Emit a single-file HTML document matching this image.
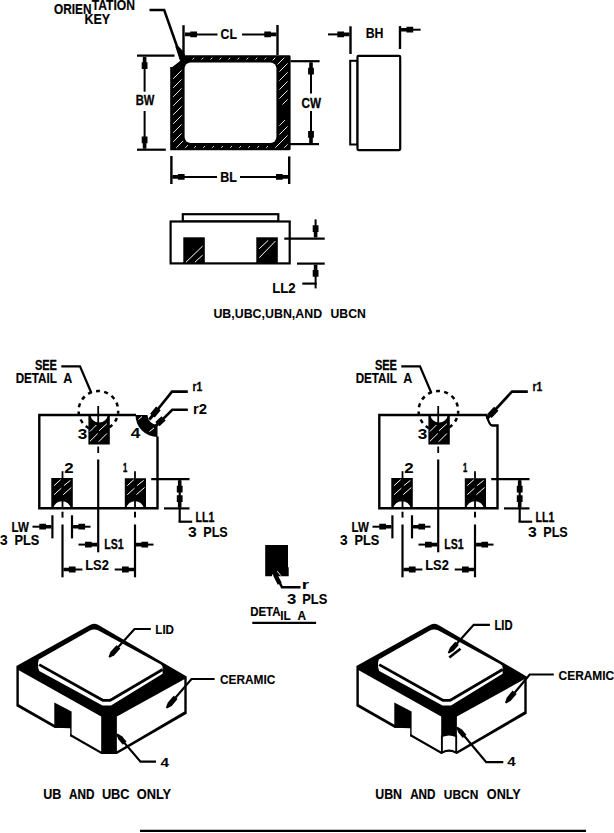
<!DOCTYPE html>
<html><head><meta charset="utf-8"><style>
html,body{margin:0;padding:0;background:#fff;width:614px;height:833px;overflow:hidden}
svg{display:block}
</style></head><body>
<svg width="614" height="833" viewBox="0 0 614 833" stroke="#000" stroke-linecap="butt" fill="none">
<defs>
<pattern id="hat" patternUnits="userSpaceOnUse" width="9" height="9"><line x1="-1" y1="10" x2="10" y2="-1" stroke="#fff" stroke-width="0.9"/></pattern>
</defs>
<g font-family="Liberation Sans, sans-serif" font-weight="bold" stroke="#000" stroke-width="0.35">
<text style="white-space:pre" transform="translate(54.02,14.31) scale(0.8440,1)" font-size="14.023" fill="#000" stroke="#000" stroke-width="0.184" vector-effect="non-scaling-stroke">ORIEN</text>
<text style="white-space:pre" transform="translate(91.76,9.52) scale(0.8702,1)" font-size="13.923" fill="#000" stroke="#000" stroke-width="0.154" vector-effect="non-scaling-stroke">TATION</text>
<text style="white-space:pre" transform="translate(84.47,24.11) scale(0.8529,1)" font-size="14.680" fill="#000" stroke="#000" stroke-width="0.171" vector-effect="non-scaling-stroke">KEY</text>
<text style="white-space:pre" transform="translate(220.61,38.9) scale(0.8304,1)" font-size="14.726" fill="#000" stroke="#000" stroke-width="0.192" vector-effect="non-scaling-stroke">CL</text>
<text style="white-space:pre" transform="translate(220.29,181.6) scale(0.8195,1)" font-size="15.212" fill="#000" stroke="#000" stroke-width="0.204" vector-effect="non-scaling-stroke">BL</text>
<text style="white-space:pre" transform="translate(135.7,105.27) scale(0.7656,1)" font-size="14.685" fill="#000" stroke="#000" stroke-width="0.267" vector-effect="non-scaling-stroke">BW</text>
<text style="white-space:pre" transform="translate(301.47,107.86) scale(0.7623,1)" font-size="15.328" fill="#000" stroke="#000" stroke-width="0.270" vector-effect="non-scaling-stroke">CW</text>
<text style="white-space:pre" transform="translate(365.67,38.43) scale(0.8810,1)" font-size="14.005" fill="#000" stroke="#000" stroke-width="0.136" vector-effect="non-scaling-stroke">BH</text>
<text style="white-space:pre" transform="translate(272.18,292.66) scale(0.9257,1)" font-size="14.305" fill="#000" stroke="#000" stroke-width="0.087" vector-effect="non-scaling-stroke">LL2</text>
<text style="white-space:pre" transform="translate(213.39,318.27) scale(0.9496,1)" font-size="13.054" fill="#000" stroke="#000" stroke-width="0.062" vector-effect="non-scaling-stroke">UB,UBC,UBN,AND</text>
<text style="white-space:pre" transform="translate(330.5,318.26) scale(0.9374,1)" font-size="13.036" fill="#000" stroke="#000" stroke-width="0.075" vector-effect="non-scaling-stroke">UBCN</text>
</g>
<path d="M170.2,150.2 V67 H172.3 L176.2,64 L180.6,60.6 L184.5,55.2 H289.3 Q290.6,55.2 290.6,56.5 V148.9 Q290.6,150.2 289.3,150.2 Z" fill="#000" stroke="none"/>
<rect x="184.6" y="62.6" width="91.8" height="80.5" rx="6" fill="#fff" stroke="none"/>
<clipPath id="bc"><path d="M173.2,147.7 V70 H173.5 L177.5,67 L182,63.6 L186,57.7 H287.6 V147.7 Z M181.6,68.6 V135.1 a11,11 0 0 0 11,11 H268.4 a11,11 0 0 0 11,-11 V70.6 a11,11 0 0 0 -11,-11 H192.6 a11,11 0 0 0 -11,9 Z" fill-rule="evenodd"/></clipPath>
<rect x="170" y="55" width="121" height="96" fill="url(#hat)" stroke="none" clip-path="url(#bc)"/>
<rect x="278" y="104.5" width="11" height="15.5" fill="#000" stroke="none"/>
<polyline points="149.5,10.1 164.2,10.1 177.2,47" fill="none" stroke-width="2.5"/>
<polygon points="175.3,46.5 178.2,46 182.5,50.5 185,55 185,58 180.6,61.2 179.5,59.5" fill="#000" stroke="none"/>
<line x1="183.5" y1="25.2" x2="183.5" y2="55" stroke-width="2.4"/>
<line x1="277.5" y1="25" x2="277.5" y2="55" stroke-width="2.4"/>
<line x1="185" y1="34.4" x2="217.5" y2="34.4" stroke-width="2"/>
<polygon points="185,32.6 190.3,32.6 190.3,31.5 197,31.5 197,37.3 190.3,37.3 190.3,36.2 185,36.2" fill="#000" stroke="none"/>
<line x1="276.3" y1="34.4" x2="242" y2="34.4" stroke-width="2"/>
<polygon points="276.3,36.2 271,36.2 271,37.3 264.3,37.3 264.3,31.5 271,31.5 271,32.6 276.3,32.6" fill="#000" stroke="none"/>
<line x1="137" y1="55.7" x2="174.5" y2="55.7" stroke-width="2.2"/>
<line x1="137" y1="149.7" x2="165.8" y2="149.7" stroke-width="2.2"/>
<line x1="144.6" y1="57" x2="144.6" y2="91.7" stroke-width="2"/>
<polygon points="146.4,57 146.4,62.3 147.5,62.3 147.5,69 141.7,69 141.7,62.3 142.8,62.3 142.8,57" fill="#000" stroke="none"/>
<line x1="144.6" y1="148.5" x2="144.6" y2="111" stroke-width="2"/>
<polygon points="142.8,148.5 142.8,143.2 141.7,143.2 141.7,136.5 147.5,136.5 147.5,143.2 146.4,143.2 146.4,148.5" fill="#000" stroke="none"/>
<line x1="171.4" y1="156" x2="171.4" y2="184" stroke-width="2.4"/>
<line x1="289.2" y1="156.4" x2="289.2" y2="184" stroke-width="2.4"/>
<line x1="172.6" y1="176.9" x2="217" y2="176.9" stroke-width="2"/>
<polygon points="172.6,175.1 177.9,175.1 177.9,174 184.6,174 184.6,179.8 177.9,179.8 177.9,178.7 172.6,178.7" fill="#000" stroke="none"/>
<line x1="288" y1="176.9" x2="240" y2="176.9" stroke-width="2"/>
<polygon points="288,178.7 282.7,178.7 282.7,179.8 276,179.8 276,174 282.7,174 282.7,175.1 288,175.1" fill="#000" stroke="none"/>
<line x1="290.6" y1="61.2" x2="319.6" y2="61.2" stroke-width="2.2"/>
<line x1="290" y1="144.1" x2="319" y2="144.1" stroke-width="2.2"/>
<line x1="311" y1="62.5" x2="311" y2="93.6" stroke-width="2"/>
<polygon points="312.8,62.5 312.8,67.8 313.9,67.8 313.9,74.5 308.1,74.5 308.1,67.8 309.2,67.8 309.2,62.5" fill="#000" stroke="none"/>
<line x1="311" y1="143" x2="311" y2="111" stroke-width="2"/>
<polygon points="309.2,143 309.2,137.7 308.1,137.7 308.1,131 313.9,131 313.9,137.7 312.8,137.7 312.8,143" fill="#000" stroke="none"/>
<rect x="350.2" y="60.8" width="7.3" height="83.7" stroke-width="2"/>
<rect x="357.5" y="55.9" width="42.7" height="94.2" rx="1" fill="#fff" stroke-width="2.2"/>
<line x1="350.5" y1="26.3" x2="350.5" y2="54" stroke-width="2.4"/>
<line x1="400" y1="26.1" x2="400" y2="49" stroke-width="2.4"/>
<line x1="349.3" y1="34.4" x2="328" y2="34.4" stroke-width="2"/>
<polygon points="349.3,36.2 344,36.2 344,37.3 337.3,37.3 337.3,31.5 344,31.5 344,32.6 349.3,32.6" fill="#000" stroke="none"/>
<line x1="401.2" y1="29.7" x2="420.6" y2="29.7" stroke-width="2"/>
<polygon points="401.2,27.9 406.5,27.9 406.5,26.8 413.2,26.8 413.2,32.6 406.5,32.6 406.5,31.5 401.2,31.5" fill="#000" stroke="none"/>
<rect x="182.8" y="214.2" width="95.5" height="7.3" stroke-width="2.2"/>
<rect x="170.6" y="221.5" width="119.1" height="41.9" fill="#fff" stroke-width="2.2"/>
<rect x="183.3" y="237.3" width="21.5" height="26.1" fill="#000" stroke="none"/>
<rect x="256.3" y="237.3" width="21.5" height="26.1" fill="#000" stroke="none"/>
<g stroke="#fff" stroke-width="1">
<line x1="186" y1="262.2" x2="202.6" y2="246.1"/><line x1="194.9" y1="262.2" x2="202.6" y2="255.1"/>
<line x1="259.2" y1="248.8" x2="268.2" y2="240.4"/><line x1="259.2" y1="257.8" x2="275.4" y2="241.1"/>
</g>
<line x1="284.3" y1="238.6" x2="324.7" y2="238.6" stroke-width="2.2"/>
<line x1="297" y1="263.6" x2="324.7" y2="263.6" stroke-width="2.2"/>
<line x1="315.6" y1="237.3" x2="315.6" y2="219.4" stroke-width="2"/>
<polygon points="313.8,237.3 313.8,232 312.7,232 312.7,225.3 318.5,225.3 318.5,232 317.4,232 317.4,237.3" fill="#000" stroke="none"/>
<line x1="315.6" y1="264.8" x2="315.6" y2="288.4" stroke-width="2"/>
<polygon points="317.4,264.8 317.4,270.1 318.5,270.1 318.5,276.8 312.7,276.8 312.7,270.1 313.8,270.1 313.8,264.8" fill="#000" stroke="none"/>
<line x1="302.3" y1="283.6" x2="316.6" y2="283.6" stroke-width="2.2"/>
<g transform="translate(0,0)">
<g font-family="Liberation Sans, sans-serif" font-weight="bold" stroke="#000" stroke-width="0.35">
<text style="white-space:pre" transform="translate(34.89,370.28) scale(0.7841,1)" font-size="14.073" fill="#000" stroke="#000" stroke-width="0.249" vector-effect="non-scaling-stroke">SEE</text>
<text style="white-space:pre" transform="translate(15.63,383.41) scale(0.8475,1)" font-size="13.796" fill="#000" stroke="#000" stroke-width="0.181" vector-effect="non-scaling-stroke">DETAIL</text>
<text style="white-space:pre" transform="translate(63.34,383.45) scale(0.9010,1)" font-size="13.902" fill="#000" stroke="#000" stroke-width="0.107" vector-effect="non-scaling-stroke">A</text>
<text style="white-space:pre" transform="translate(77.77,438.6) scale(1.1558,1)" font-size="14.857" fill="#000" stroke="none">3</text>
<text style="white-space:pre" transform="translate(130.74,438.4) scale(1.2108,1)" font-size="14.203" fill="#000" stroke="none">4</text>
<text style="white-space:pre" transform="translate(64.31,472.5) scale(1.2178,1)" font-size="13.857" fill="#000" stroke="none">2</text>
<text style="white-space:pre" transform="translate(122.92,472.38) scale(0.5650,1)" font-size="13.574" fill="#000" stroke="#000" stroke-width="0.434" vector-effect="non-scaling-stroke">1</text>
<text style="white-space:pre" transform="translate(11.55,531.6) scale(0.8292,1)" font-size="13.920" fill="#000" stroke="#000" stroke-width="0.196" vector-effect="non-scaling-stroke">LW</text>
<text style="white-space:pre" transform="translate(-0.11,545.46) scale(0.9257,1)" font-size="14.889" fill="#000" stroke="#000" stroke-width="0.078" vector-effect="non-scaling-stroke">3</text>
<text style="white-space:pre" transform="translate(14.45,545.42) scale(0.8637,1)" font-size="14.774" fill="#000" stroke="#000" stroke-width="0.158" vector-effect="non-scaling-stroke">PLS</text>
<text style="white-space:pre" transform="translate(104.24,549.47) scale(0.7716,1)" font-size="13.768" fill="#000" stroke="#000" stroke-width="0.262" vector-effect="non-scaling-stroke">LS1</text>
<text style="white-space:pre" transform="translate(85.23,569.73) scale(0.8779,1)" font-size="14.655" fill="#000" stroke="#000" stroke-width="0.141" vector-effect="non-scaling-stroke">LS2</text>
<text style="white-space:pre" transform="translate(195.57,522.35) scale(0.7292,1)" font-size="14.481" fill="#000" stroke="#000" stroke-width="0.308" vector-effect="non-scaling-stroke">LL1</text>
<text style="white-space:pre" transform="translate(187.91,536.6) scale(1.1255,1)" font-size="14.000" fill="#000" stroke="none">3</text>
<text style="white-space:pre" transform="translate(203.23,536.55) scale(0.9115,1)" font-size="13.852" fill="#000" stroke="#000" stroke-width="0.103" vector-effect="non-scaling-stroke">PLS</text>
<text style="white-space:pre" transform="translate(192.56,390.97) scale(0.7557,1)" font-size="13.671" fill="#000" stroke="#000" stroke-width="0.267" vector-effect="non-scaling-stroke">r1</text>
<text style="white-space:pre" transform="translate(192.93,413.9) scale(1.0739,1)" font-size="13.857" fill="#000" stroke="none">r2</text>
</g>
<polyline points="136,415 39.3,415 39.3,508.3 157.5,508.3 157.5,436.5" fill="none" stroke-width="2.4"/>
<path d="M88.4,415 H90.6 A8.5,7.5 0 0 0 107.6,415 H109.8 V444.5 H88.4 Z" fill="#000" stroke="none"/>
<path d="M51.3,478.1 H72.8 V508.3 H70.3 A8.3,7 0 0 0 53.7,508.3 H51.3 Z" fill="#000" stroke="none"/>
<path d="M124.8,478.3 H146 V508.3 H143.3 A8.3,7 0 0 0 126.7,508.3 H124.8 Z" fill="#000" stroke="none"/>
<path d="M135.5,415 A22,22 0 0 0 157.5,437 V425 A10,10 0 0 1 147.5,415 Z" fill="#000" stroke="none"/>
<g stroke="#fff" stroke-width="1">
<line x1="89.9" y1="431.5" x2="96.4" y2="425"/><line x1="99" y1="430.8" x2="106.9" y2="423.7"/><line x1="89.9" y1="441.3" x2="97.8" y2="433.5"/><line x1="98.6" y1="441.8" x2="106.9" y2="433.5"/>
<line x1="54.1" y1="485.6" x2="60.6" y2="479.7"/><line x1="63.9" y1="485.6" x2="70.4" y2="480.4"/><line x1="54.1" y1="494.7" x2="61.3" y2="488.2"/><line x1="63.2" y1="494.7" x2="71.3" y2="487.5"/>
<line x1="127.30000000000001" y1="485.6" x2="133.8" y2="479.7"/><line x1="137.1" y1="485.6" x2="143.60000000000002" y2="480.4"/><line x1="127.30000000000001" y1="494.7" x2="134.5" y2="488.2"/><line x1="136.4" y1="494.7" x2="144.5" y2="487.5"/>
<line x1="138.5" y1="419.5" x2="142" y2="416.5"/><line x1="149.5" y1="431.5" x2="154" y2="428"/>
</g>
<circle cx="98.4" cy="410.8" r="19.8" stroke-width="2.5" stroke-dasharray="4 4.3" stroke-dashoffset="1"/>
<polyline points="61.3,366.3 80,366.3 91.4,393" fill="none" stroke-width="2.2"/>
<line x1="98.2" y1="406" x2="98.2" y2="424" stroke-width="1.8"/>
<line x1="98.2" y1="446.5" x2="98.2" y2="453" stroke-width="1.8"/>
<line x1="98.2" y1="459.5" x2="98.2" y2="552.3" stroke-width="2.2"/>
<line x1="62.5" y1="471.2" x2="62.5" y2="478.5" stroke-width="1.8"/>
<line x1="62.5" y1="500" x2="62.5" y2="508" stroke-width="1.8"/>
<line x1="62.5" y1="511.7" x2="62.5" y2="517.6" stroke-width="2"/>
<line x1="62.5" y1="524.5" x2="62.5" y2="577.3" stroke-width="2.2"/>
<line x1="135" y1="471.2" x2="135" y2="478.5" stroke-width="1.8"/>
<line x1="135" y1="500" x2="135" y2="508" stroke-width="1.8"/>
<line x1="135" y1="511.7" x2="135" y2="517.6" stroke-width="2"/>
<line x1="135" y1="524.5" x2="135" y2="577.3" stroke-width="2.2"/>
<line x1="52.4" y1="515.3" x2="52.4" y2="538.4" stroke-width="2.2"/>
<line x1="72" y1="515.3" x2="72" y2="538.4" stroke-width="2.2"/>
<line x1="51.3" y1="526.7" x2="32.5" y2="526.7" stroke-width="2"/>
<polygon points="51.3,528.5 46,528.5 46,529.6 39.3,529.6 39.3,523.8 46,523.8 46,524.9 51.3,524.9" fill="#000" stroke="none"/>
<line x1="73.1" y1="526.7" x2="90.5" y2="526.7" stroke-width="2"/>
<polygon points="73.1,524.9 78.4,524.9 78.4,523.8 85.1,523.8 85.1,529.6 78.4,529.6 78.4,528.5 73.1,528.5" fill="#000" stroke="none"/>
<line x1="97" y1="544.6" x2="78.5" y2="544.6" stroke-width="2"/>
<polygon points="97,546.4 91.7,546.4 91.7,547.5 85,547.5 85,541.7 91.7,541.7 91.7,542.8 97,542.8" fill="#000" stroke="none"/>
<line x1="136.1" y1="544.6" x2="153.5" y2="544.6" stroke-width="2"/>
<polygon points="136.1,542.8 141.4,542.8 141.4,541.7 148.1,541.7 148.1,547.5 141.4,547.5 141.4,546.4 136.1,546.4" fill="#000" stroke="none"/>
<line x1="63.6" y1="569.5" x2="82.4" y2="569.5" stroke-width="2"/>
<polygon points="63.6,567.7 68.9,567.7 68.9,566.6 75.6,566.6 75.6,572.4 68.9,572.4 68.9,571.3 63.6,571.3" fill="#000" stroke="none"/>
<line x1="134" y1="569.5" x2="114.7" y2="569.5" stroke-width="2"/>
<polygon points="134,571.3 128.7,571.3 128.7,572.4 122,572.4 122,566.6 128.7,566.6 128.7,567.7 134,567.7" fill="#000" stroke="none"/>
<line x1="151.2" y1="479.2" x2="189.5" y2="479.2" stroke-width="2.2"/>
<line x1="164" y1="508.4" x2="189.5" y2="508.4" stroke-width="2.2"/>
<line x1="179.7" y1="479.2" x2="179.7" y2="522" stroke-width="2.2"/>
<polygon points="181.5,480.4 181.5,485.7 182.6,485.7 182.6,492.4 176.8,492.4 176.8,485.7 177.9,485.7 177.9,480.4" fill="#000" stroke="none"/>
<polygon points="177.9,507.2 177.9,501.9 176.8,501.9 176.8,495.2 182.6,495.2 182.6,501.9 181.5,501.9 181.5,507.2" fill="#000" stroke="none"/>
<line x1="178.6" y1="521.7" x2="192.2" y2="521.7" stroke-width="2.2"/>
<polyline points="187.8,391.6 172,391.6 152,416.5" fill="none" stroke-width="2.6"/>
<polygon points="148.13,418.66 151.28,414.77 150.12,413.83 156.1,406.45 160.76,410.23 154.78,417.61 153.61,416.66 150.47,420.54" fill="#000" stroke="none"/>
<polyline points="187.8,409.8 172.3,409.8 158,424" fill="none" stroke-width="2.6"/>
<polygon points="154.26,425.22 156.41,423.13 155.36,422.06 161.46,416.14 165.64,420.44 159.54,426.36 158.5,425.29 156.34,427.38" fill="#000" stroke="none"/>
</g>
<g transform="translate(340,0)">
<g font-family="Liberation Sans, sans-serif" font-weight="bold" stroke="#000" stroke-width="0.35">
<text style="white-space:pre" transform="translate(34.89,370.28) scale(0.7841,1)" font-size="14.073" fill="#000" stroke="#000" stroke-width="0.249" vector-effect="non-scaling-stroke">SEE</text>
<text style="white-space:pre" transform="translate(15.63,383.41) scale(0.8475,1)" font-size="13.796" fill="#000" stroke="#000" stroke-width="0.181" vector-effect="non-scaling-stroke">DETAIL</text>
<text style="white-space:pre" transform="translate(63.34,383.45) scale(0.9010,1)" font-size="13.902" fill="#000" stroke="#000" stroke-width="0.107" vector-effect="non-scaling-stroke">A</text>
<text style="white-space:pre" transform="translate(77.77,438.6) scale(1.1558,1)" font-size="14.857" fill="#000" stroke="none">3</text>
<text style="white-space:pre" transform="translate(64.31,472.5) scale(1.2178,1)" font-size="13.857" fill="#000" stroke="none">2</text>
<text style="white-space:pre" transform="translate(122.92,472.38) scale(0.5650,1)" font-size="13.574" fill="#000" stroke="#000" stroke-width="0.434" vector-effect="non-scaling-stroke">1</text>
<text style="white-space:pre" transform="translate(11.55,531.6) scale(0.8292,1)" font-size="13.920" fill="#000" stroke="#000" stroke-width="0.196" vector-effect="non-scaling-stroke">LW</text>
<text style="white-space:pre" transform="translate(-0.11,545.46) scale(0.9257,1)" font-size="14.889" fill="#000" stroke="#000" stroke-width="0.078" vector-effect="non-scaling-stroke">3</text>
<text style="white-space:pre" transform="translate(14.45,545.42) scale(0.8637,1)" font-size="14.774" fill="#000" stroke="#000" stroke-width="0.158" vector-effect="non-scaling-stroke">PLS</text>
<text style="white-space:pre" transform="translate(104.24,549.47) scale(0.7716,1)" font-size="13.768" fill="#000" stroke="#000" stroke-width="0.262" vector-effect="non-scaling-stroke">LS1</text>
<text style="white-space:pre" transform="translate(85.23,569.73) scale(0.8779,1)" font-size="14.655" fill="#000" stroke="#000" stroke-width="0.141" vector-effect="non-scaling-stroke">LS2</text>
<text style="white-space:pre" transform="translate(195.57,522.35) scale(0.7292,1)" font-size="14.481" fill="#000" stroke="#000" stroke-width="0.308" vector-effect="non-scaling-stroke">LL1</text>
<text style="white-space:pre" transform="translate(187.91,536.6) scale(1.1255,1)" font-size="14.000" fill="#000" stroke="none">3</text>
<text style="white-space:pre" transform="translate(203.23,536.55) scale(0.9115,1)" font-size="13.852" fill="#000" stroke="#000" stroke-width="0.103" vector-effect="non-scaling-stroke">PLS</text>
<text style="white-space:pre" transform="translate(192.56,390.97) scale(0.7557,1)" font-size="13.671" fill="#000" stroke="#000" stroke-width="0.267" vector-effect="non-scaling-stroke">r1</text>
</g>
<path d="M39.3,415 H146.5 Q149.5,425.5 152,425.5 H157.5 V508.3 H39.3 Z" stroke-width="2.4"/>
<path d="M88.4,415 H90.6 A8.5,7.5 0 0 0 107.6,415 H109.8 V444.5 H88.4 Z" fill="#000" stroke="none"/>
<path d="M51.3,478.1 H72.8 V508.3 H70.3 A8.3,7 0 0 0 53.7,508.3 H51.3 Z" fill="#000" stroke="none"/>
<path d="M124.8,478.3 H146 V508.3 H143.3 A8.3,7 0 0 0 126.7,508.3 H124.8 Z" fill="#000" stroke="none"/>
<g stroke="#fff" stroke-width="1">
<line x1="89.9" y1="431.5" x2="96.4" y2="425"/><line x1="99" y1="430.8" x2="106.9" y2="423.7"/><line x1="89.9" y1="441.3" x2="97.8" y2="433.5"/><line x1="98.6" y1="441.8" x2="106.9" y2="433.5"/>
<line x1="54.1" y1="485.6" x2="60.6" y2="479.7"/><line x1="63.9" y1="485.6" x2="70.4" y2="480.4"/><line x1="54.1" y1="494.7" x2="61.3" y2="488.2"/><line x1="63.2" y1="494.7" x2="71.3" y2="487.5"/>
<line x1="127.30000000000001" y1="485.6" x2="133.8" y2="479.7"/><line x1="137.1" y1="485.6" x2="143.60000000000002" y2="480.4"/><line x1="127.30000000000001" y1="494.7" x2="134.5" y2="488.2"/><line x1="136.4" y1="494.7" x2="144.5" y2="487.5"/>
</g>
<circle cx="98.4" cy="410.8" r="19.8" stroke-width="2.5" stroke-dasharray="4 4.3" stroke-dashoffset="1"/>
<polyline points="61.3,366.3 80,366.3 91.4,393" fill="none" stroke-width="2.2"/>
<line x1="98.2" y1="406" x2="98.2" y2="424" stroke-width="1.8"/>
<line x1="98.2" y1="446.5" x2="98.2" y2="453" stroke-width="1.8"/>
<line x1="98.2" y1="459.5" x2="98.2" y2="552.3" stroke-width="2.2"/>
<line x1="62.5" y1="471.2" x2="62.5" y2="478.5" stroke-width="1.8"/>
<line x1="62.5" y1="500" x2="62.5" y2="508" stroke-width="1.8"/>
<line x1="62.5" y1="511.7" x2="62.5" y2="517.6" stroke-width="2"/>
<line x1="62.5" y1="524.5" x2="62.5" y2="577.3" stroke-width="2.2"/>
<line x1="135" y1="471.2" x2="135" y2="478.5" stroke-width="1.8"/>
<line x1="135" y1="500" x2="135" y2="508" stroke-width="1.8"/>
<line x1="135" y1="511.7" x2="135" y2="517.6" stroke-width="2"/>
<line x1="135" y1="524.5" x2="135" y2="577.3" stroke-width="2.2"/>
<line x1="52.4" y1="515.3" x2="52.4" y2="538.4" stroke-width="2.2"/>
<line x1="72" y1="515.3" x2="72" y2="538.4" stroke-width="2.2"/>
<line x1="51.3" y1="526.7" x2="32.5" y2="526.7" stroke-width="2"/>
<polygon points="51.3,528.5 46,528.5 46,529.6 39.3,529.6 39.3,523.8 46,523.8 46,524.9 51.3,524.9" fill="#000" stroke="none"/>
<line x1="73.1" y1="526.7" x2="90.5" y2="526.7" stroke-width="2"/>
<polygon points="73.1,524.9 78.4,524.9 78.4,523.8 85.1,523.8 85.1,529.6 78.4,529.6 78.4,528.5 73.1,528.5" fill="#000" stroke="none"/>
<line x1="97" y1="544.6" x2="78.5" y2="544.6" stroke-width="2"/>
<polygon points="97,546.4 91.7,546.4 91.7,547.5 85,547.5 85,541.7 91.7,541.7 91.7,542.8 97,542.8" fill="#000" stroke="none"/>
<line x1="136.1" y1="544.6" x2="153.5" y2="544.6" stroke-width="2"/>
<polygon points="136.1,542.8 141.4,542.8 141.4,541.7 148.1,541.7 148.1,547.5 141.4,547.5 141.4,546.4 136.1,546.4" fill="#000" stroke="none"/>
<line x1="63.6" y1="569.5" x2="82.4" y2="569.5" stroke-width="2"/>
<polygon points="63.6,567.7 68.9,567.7 68.9,566.6 75.6,566.6 75.6,572.4 68.9,572.4 68.9,571.3 63.6,571.3" fill="#000" stroke="none"/>
<line x1="134" y1="569.5" x2="114.7" y2="569.5" stroke-width="2"/>
<polygon points="134,571.3 128.7,571.3 128.7,572.4 122,572.4 122,566.6 128.7,566.6 128.7,567.7 134,567.7" fill="#000" stroke="none"/>
<line x1="151.2" y1="479.2" x2="189.5" y2="479.2" stroke-width="2.2"/>
<line x1="164" y1="508.4" x2="189.5" y2="508.4" stroke-width="2.2"/>
<line x1="179.7" y1="479.2" x2="179.7" y2="522" stroke-width="2.2"/>
<polygon points="181.5,480.4 181.5,485.7 182.6,485.7 182.6,492.4 176.8,492.4 176.8,485.7 177.9,485.7 177.9,480.4" fill="#000" stroke="none"/>
<polygon points="177.9,507.2 177.9,501.9 176.8,501.9 176.8,495.2 182.6,495.2 182.6,501.9 181.5,501.9 181.5,507.2" fill="#000" stroke="none"/>
<line x1="178.6" y1="521.7" x2="192.2" y2="521.7" stroke-width="2.2"/>
<polyline points="187.8,391.6 172,391.6 149.5,416" fill="none" stroke-width="2.6"/>
<polygon points="145.7,417.98 148.4,415.04 147.3,414.03 154.07,406.66 158.49,410.73 151.72,418.09 150.61,417.07 147.9,420.02" fill="#000" stroke="none"/>
</g>
<path d="M265.2,544.9 H288 V567.2 H288.7 V576.3 H275.5 L273.4,572.5 L271.8,576.3 H265.2 Z" fill="#000" stroke="none"/>
<polyline points="275,573.5 282,587.3 300.5,587.3" fill="none" stroke-width="2.5"/>
<polygon points="274.96,571.71 277.59,574.85 281.7,582.85 277.79,584.87 273.67,576.86 272.64,572.89" fill="#000" stroke="none"/>
<line x1="277.3" y1="571.2" x2="280.8" y2="575.6" stroke="#fff" stroke-width="0.9"/>
<g font-family="Liberation Sans, sans-serif" font-weight="bold" stroke="#000" stroke-width="0.35">
<text style="white-space:pre" transform="translate(301.78,589.2) scale(1.4858,1)" font-size="12.593" fill="#000" stroke="none">r</text>
<text style="white-space:pre" transform="translate(286.88,604.4) scale(1.1396,1)" font-size="14.714" fill="#000" stroke="none">3</text>
<text style="white-space:pre" transform="translate(302.23,604.33) scale(0.8868,1)" font-size="14.526" fill="#000" stroke="#000" stroke-width="0.132" vector-effect="non-scaling-stroke">PLS</text>
<text style="white-space:pre" transform="translate(250.25,615.81) scale(0.8440,1)" font-size="13.502" fill="#000" stroke="#000" stroke-width="0.184" vector-effect="non-scaling-stroke">DETA</text>
<text style="white-space:pre" transform="translate(280.31,619.52) scale(0.8587,1)" font-size="13.688" fill="#000" stroke="#000" stroke-width="0.155" vector-effect="non-scaling-stroke">IL</text>
<text style="white-space:pre" transform="translate(297.58,619.53) scale(0.8665,1)" font-size="13.704" fill="#000" stroke="#000" stroke-width="0.144" vector-effect="non-scaling-stroke">A</text>
<text style="white-space:pre" transform="translate(43.22,798.53) scale(0.8785,1)" font-size="14.291" fill="#000" stroke="#000" stroke-width="0.139" vector-effect="non-scaling-stroke">UB</text>
<text style="white-space:pre" transform="translate(69.11,798.5) scale(0.8250,1)" font-size="14.198" fill="#000" stroke="#000" stroke-width="0.204" vector-effect="non-scaling-stroke">AND</text>
<text style="white-space:pre" transform="translate(101.89,798.54) scale(0.9049,1)" font-size="14.126" fill="#000" stroke="#000" stroke-width="0.112" vector-effect="non-scaling-stroke">UBC</text>
<text style="white-space:pre" transform="translate(136.64,798.55) scale(0.9092,1)" font-size="14.132" fill="#000" stroke="#000" stroke-width="0.107" vector-effect="non-scaling-stroke">ONLY</text>
<text style="white-space:pre" transform="translate(375.22,798.54) scale(0.8929,1)" font-size="13.876" fill="#000" stroke="#000" stroke-width="0.126" vector-effect="non-scaling-stroke">UBN</text>
<text style="white-space:pre" transform="translate(410.2,798.51) scale(0.8463,1)" font-size="13.798" fill="#000" stroke="#000" stroke-width="0.180" vector-effect="non-scaling-stroke">AND</text>
<text style="white-space:pre" transform="translate(443.86,798.53) scale(0.8749,1)" font-size="13.646" fill="#000" stroke="#000" stroke-width="0.148" vector-effect="non-scaling-stroke">UBCN</text>
<text style="white-space:pre" transform="translate(486.84,798.55) scale(0.9201,1)" font-size="13.722" fill="#000" stroke="#000" stroke-width="0.095" vector-effect="non-scaling-stroke">ONLY</text>
<text style="white-space:pre" transform="translate(155.32,634.43) scale(0.8742,1)" font-size="13.267" fill="#000" stroke="#000" stroke-width="0.146" vector-effect="non-scaling-stroke">LID</text>
<text style="white-space:pre" transform="translate(219.98,683.95) scale(0.9134,1)" font-size="12.993" fill="#000" stroke="#000" stroke-width="0.105" vector-effect="non-scaling-stroke">CERAMIC</text>
<text style="white-space:pre" transform="translate(494.48,630.29) scale(0.8078,1)" font-size="13.884" fill="#000" stroke="#000" stroke-width="0.220" vector-effect="non-scaling-stroke">LID</text>
<text style="white-space:pre" transform="translate(558.59,679.93) scale(0.8826,1)" font-size="13.513" fill="#000" stroke="#000" stroke-width="0.141" vector-effect="non-scaling-stroke">CERAMIC</text>
<text style="white-space:pre" transform="translate(160.57,766.5) scale(1.1883,1)" font-size="12.899" fill="#000" stroke="none">4</text>
<text style="white-space:pre" transform="translate(507.17,766.3) scale(1.1738,1)" font-size="12.899" fill="#000" stroke="none">4</text>
</g>
<line x1="252.3" y1="622.8" x2="316.1" y2="622.8" stroke-width="2.2"/>
<line x1="140" y1="830.8" x2="586" y2="830.8" stroke-width="2.2"/>
<g transform="translate(0,0)">
<path d="M16.4,665.9 L89.5,625.3 Q93.7,622.3 98,624.8 L186.7,676.4 V713.8 L116.9,754 H101.2 L70.2,736.3 V728.2 L54.3,727.7 L16.4,706.3 Z" fill="#000" stroke="none"/>
<polygon points="18.8,670.3 101.2,716.6 101.2,751.6 18.8,704.3" fill="#fff" stroke="none"/>
<polygon points="54.3,702.4 71.6,711.4 71.6,736.4 70.2,736.4 70.2,728.2 54.3,727.7" fill="#000" stroke="none"/>
<polygon points="116.9,716.4 184.3,679.3 184.3,711.6 116.9,751.2" fill="#fff" stroke="none"/>
<path d="M38.8,659.6 L89.5,630.8 Q93.7,628.3 98,630.3 L160.5,664.2 Q162.8,665.5 162.6,667.5 L162.6,673.8 L111,705.6 H102.5 L39.3,671 Q37.8,668 38,663 Z" fill="#fff" stroke="none"/>
<polyline points="39.2,664.6 100.5,699 103,700.3 110,700.3 112.5,699 162.6,669.5" fill="none" stroke-width="2.8"/>
</g>
<polyline points="150.8,629 134.5,629 112,654" fill="none" stroke-width="2.2"/>
<polygon points="108.5,656.77 110.5,651.84 116.52,645.14 120.39,648.62 114.37,655.32 109.7,657.83" fill="#000" stroke="none"/>
<polyline points="214.6,679 191.5,679 170,704" fill="none" stroke-width="2.2"/>
<polygon points="165.89,707.48 167.8,702.52 173.67,695.7 177.61,699.09 171.73,705.91 167.11,708.52" fill="#000" stroke="none"/>
<polyline points="118,735.4 140.5,761.7 156,761.7" fill="none" stroke-width="2.2"/>
<polygon points="117.51,733.48 121.97,736.25 126.51,741.58 122.86,744.69 118.32,739.36 116.29,734.52" fill="#000" stroke="none"/>
<g transform="translate(340,0)">
<path d="M16.4,665.9 L89.5,625.3 Q93.7,622.3 98,624.8 L186.7,676.4 V713.8 L116.9,754 H101.2 L70.2,736.3 V728.2 L54.3,727.7 L16.4,706.3 Z" fill="#000" stroke="none"/>
<polygon points="18.8,670.3 101.2,716.6 101.2,751.6 18.8,704.3" fill="#fff" stroke="none"/>
<polygon points="54.3,702.4 71.6,711.4 71.6,736.4 70.2,736.4 70.2,728.2 54.3,727.7" fill="#000" stroke="none"/>
<polygon points="116.9,716.4 184.3,679.3 184.3,711.6 116.9,751.2" fill="#fff" stroke="none"/>
<path d="M38.8,659.6 L89.5,630.8 Q93.7,628.3 98,630.3 L160.5,664.2 Q162.8,665.5 162.6,667.5 L162.6,673.8 L111,705.6 H102.5 L39.3,671 Q37.8,668 38,663 Z" fill="#fff" stroke="none"/>
<polyline points="39.2,664.6 100.5,699 103,700.3 110,700.3 112.5,699 162.6,669.5" fill="none" stroke-width="2.8"/>
<path d="M100.5,754.6 Q109,748.4 117.5,754.6 V758 H100.5 Z" fill="#fff" stroke="none"/>
<path d="M101.9,736.2 Q109,733 116.2,736.2 V752.6 Q109,748.5 101.9,752.6 Z" fill="#fff" stroke="#000" stroke-width="1.9"/>
</g>
<polyline points="489.9,624.8 473.7,624.8 452,649" fill="none" stroke-width="2.2"/>
<polygon points="447.78,652.63 449.85,647.78 455.2,641.82 458.77,645.03 453.43,650.98 448.82,653.57" fill="#000" stroke="none"/>
<line x1="449.3" y1="657.5" x2="460.5" y2="648.7" stroke-width="2.6"/>
<polyline points="553.8,674.5 529.7,674.5 509,699.5" fill="none" stroke-width="2.2"/>
<polygon points="504.99,702.48 506.83,697.5 512.63,690.62 516.61,693.97 510.81,700.85 506.21,703.52" fill="#000" stroke="none"/>
<polyline points="458,728.5 486.2,762.2 503.3,762.2" fill="none" stroke-width="2.2"/>
<polygon points="457.51,726.69 461.95,729.49 466.44,734.86 462.76,737.94 458.27,732.57 456.29,727.71" fill="#000" stroke="none"/>
</svg>
</body></html>
